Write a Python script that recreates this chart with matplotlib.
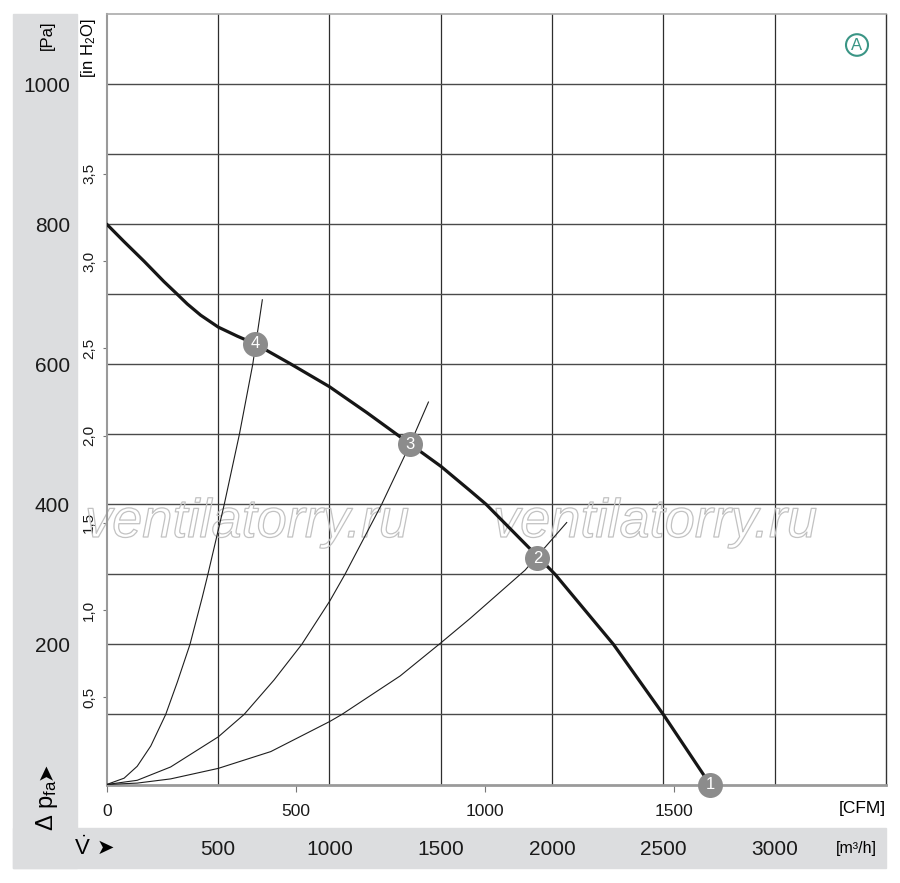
import matplotlib
matplotlib.use("Agg")
import matplotlib.pyplot as plt
import matplotlib.patheffects as pe
from matplotlib.patches import Rectangle, Circle

plt.rcParams["font.family"] = ["Liberation Sans", "DejaVu Sans"]
plt.rcParams["mathtext.default"] = "regular"

# fan curve, flow in m3/h vs static pressure in Pa
fan_q = [0, 78, 168, 257, 310, 362, 422, 501, 587, 667, 823, 1000, 1168, 1363,
         1502, 1630, 1704, 1934, 2014, 2276, 2321, 2502, 2710]
fan_p = [800, 775, 747, 718, 702, 686, 670, 653, 640, 629, 601, 568, 531, 486,
         454, 420, 400, 326, 300, 200, 180, 99, 0]

# system curves
sys4_q = [0, 78, 137, 198, 265, 317, 374, 429, 453, 528, 596, 656, 699]
sys4_p = [0, 9, 26, 55, 100, 146, 200, 267, 298, 400, 500, 600, 692]
sys3_q = [0, 137, 287, 501, 617, 751, 876, 1002, 1070, 1235, 1363, 1445]
sys3_p = [0, 6, 25, 68, 100, 149, 200, 262, 300, 400, 486, 546]
sys2_q = [0, 137, 287, 501, 737, 1002, 1056, 1318, 1500, 1632, 1879, 2066]
sys2_p = [0, 2, 8, 23, 47, 90, 100, 155, 202, 237, 306, 374]

# operating points
op_q = [2710, 1934, 1363, 667]
op_p = [0, 323, 486, 629]
op_labels = ["1", "2", "3", "4"]

pa_ticks = list(range(100, 1100, 100))
pa_labels = [str(v) if v % 200 == 0 else "" for v in pa_ticks]
inh2o_ticks = [0.5, 1.0, 1.5, 2.0, 2.5, 3.0, 3.5]
inh2o_labels = ["0,5", "1,0", "1,5", "2,0", "2,5", "3,0", "3,5"]
m3h_ticks = [500, 1000, 1500, 2000, 2500, 3000]
cfm_ticks = [0, 500, 1000, 1500]

PA_PER_INH2O = 249.09
M3H_PER_CFM = 1.699

W, H = 900, 883
fig = plt.figure(figsize=(W / 100, H / 100), dpi=100)

band = "#dcdddf"
fig.patches.append(Rectangle((13 / W, 1 - 868 / H), 64 / W, 854 / H,
                             transform=fig.transFigure, color=band, zorder=-2))
fig.patches.append(Rectangle((13 / W, 1 - 868 / H), 873 / W, 40 / H,
                             transform=fig.transFigure, color=band, zorder=-2))

ax = fig.add_axes([106.7 / W, 1 - 784.5 / H, 779.3 / W, 770.5 / H])
ax.set_xlim(0, 3500)
ax.set_ylim(0, 1100)
ax.set_axisbelow(True)

ax.set_xticks(m3h_ticks)
ax.set_xticklabels([str(v) for v in m3h_ticks])
ax.set_yticks(pa_ticks)
ax.set_yticklabels(pa_labels)
ax.tick_params(axis="x", length=0, pad=40, labelsize=15, labelcolor="#1a1a1a")
ax.tick_params(axis="y", length=0, pad=26.5, labelsize=15, labelcolor="#1a1a1a")
ax.grid(axis="x", color="#2e2e2e", lw=0.9)
ax.grid(axis="y", color="#4a4a4a", lw=1.0)

ax.spines["left"].set_color("#9a9a9a")
ax.spines["left"].set_linewidth(1.5)
ax.spines["bottom"].set_color("#9a9a9a")
ax.spines["bottom"].set_linewidth(2)
ax.spines["top"].set_color("#aaaaaa")
ax.spines["top"].set_linewidth(1.2)
ax.spines["right"].set_color("#333333")
ax.spines["right"].set_linewidth(1)

# secondary axes: in H2O and CFM
sec_y = ax.secondary_yaxis("left", functions=(lambda p: p / PA_PER_INH2O,
                                              lambda v: v * PA_PER_INH2O))
sec_y.set_yticks(inh2o_ticks)
sec_y.set_yticklabels(inh2o_labels, rotation=90, va="center")
sec_y.tick_params(length=3, width=0.8, color="#777777", pad=4.5, labelsize=11,
                  labelcolor="#1a1a1a")
sec_y.spines["left"].set_visible(False)

sec_x = ax.secondary_xaxis("bottom", functions=(lambda q: q / M3H_PER_CFM,
                                                lambda c: c * M3H_PER_CFM))
sec_x.set_xticks(cfm_ticks)
sec_x.set_xticklabels([str(v) for v in cfm_ticks])
sec_x.tick_params(length=5, width=0.8, color="#777777", pad=9, labelsize=12.5,
                  labelcolor="#1a1a1a")
sec_x.spines["bottom"].set_visible(False)

# watermark (outlined, behind the curves)
for cx in (247, 655):
    ax.text(cx / W, 1 - 537 / H, "ventilatorry.ru", transform=fig.transFigure,
            fontsize=39, style="italic", ha="center", va="baseline", color="none",
            zorder=2, clip_on=False,
            path_effects=[pe.Stroke(linewidth=0.9, foreground="#c2c2c2")])

# curves
for q, p in ((sys4_q, sys4_p), (sys3_q, sys3_p), (sys2_q, sys2_p)):
    ax.plot(q, p, color="#1e1e1e", lw=0.8, zorder=3, solid_joinstyle="round")
ax.plot(fan_q, fan_p, color="#161616", lw=2.3, zorder=4,
        solid_capstyle="round", solid_joinstyle="round")

ax.plot(op_q, op_p, "o", ms=18, color="#8c8c8c", mec="none", zorder=5, clip_on=False)
for q, p, lab in zip(op_q, op_p, op_labels):
    ax.text(q, p, lab, color="white", fontsize=12, ha="center", va="center", zorder=6)

# unit labels
fig.text(47 / W, 1 - 35 / H, "[Pa]", rotation=90, fontsize=12, ha="center", va="center")
fig.text(89 / W, 1 - 48 / H, "[in H$_2$O]", rotation=90, fontsize=12, ha="center",
         va="center")
fig.text(47 / W, 1 - 805 / H, "Δ p$_{fa}$", rotation=90, fontsize=17, ha="center",
         va="center")
fig.text(46 / W, 1 - 771 / H, "➤", rotation=90, fontsize=15, ha="center", va="center",
         family="DejaVu Sans")
fig.text(82 / W, 1 - 848 / H, r"$\dot{V}$", fontsize=16, ha="center", va="center")
fig.text(105 / W, 1 - 848 / H, "➤", fontsize=15, ha="center", va="center",
         family="DejaVu Sans")
fig.text(856 / W, 1 - 848 / H, "[m³/h]", fontsize=11.5, ha="center", va="center")
fig.text(862 / W, 1 - 809 / H, "[CFM]", fontsize=12.5, ha="center", va="center")

# diagram tag
teal = "#3a9585"
fig.patches.append(Circle((857 / W, 1 - 45 / H), 11 / W, transform=fig.transFigure,
                          fill=False, ec=teal, lw=1.5, zorder=7))
fig.text(857 / W, 1 - 45 / H, "A", color=teal, fontsize=12, ha="center", va="center",
         zorder=8)

fig.savefig("out.png", dpi=100)
